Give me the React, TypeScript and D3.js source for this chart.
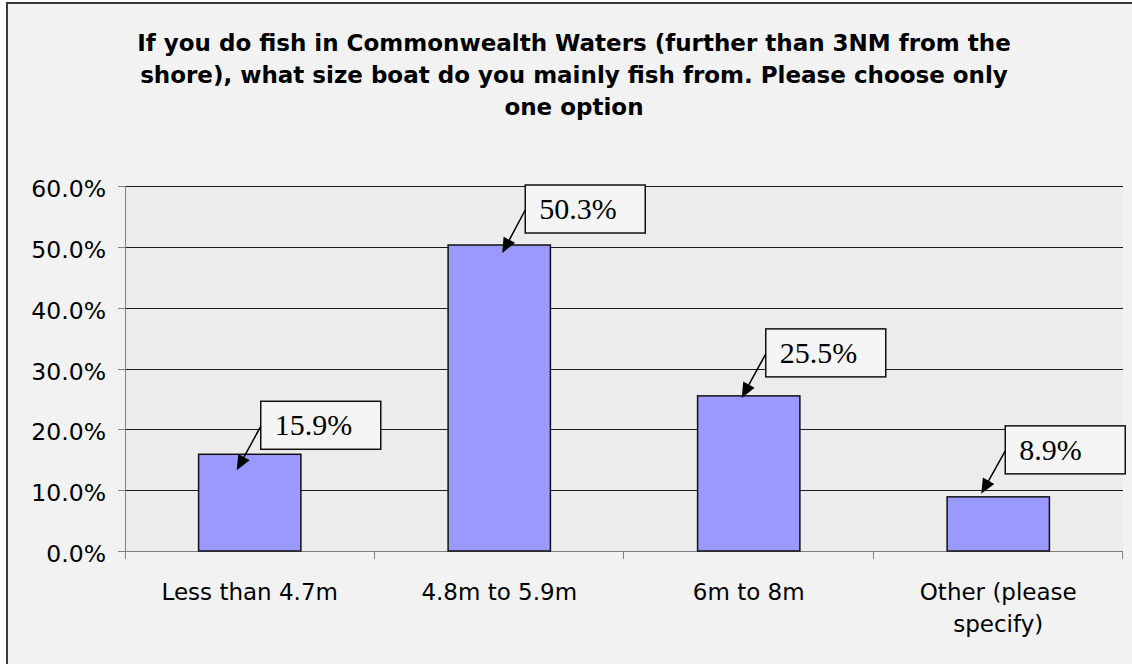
import React from "react";
import * as d3 from "d3";

const titleLines = [
  "If you do fish in Commonwealth Waters (further than 3NM from the",
  "shore), what size boat do you mainly fish from. Please choose only",
  "one option",
];
const categories = ["Less than 4.7m", "4.8m to 5.9m", "6m to 8m", "Other (please specify)"];
const categoryLines = [["Less than 4.7m"], ["4.8m to 5.9m"], ["6m to 8m"], ["Other (please", "specify)"]];
const values = [15.9, 50.3, 25.5, 8.9];
const valueLabels = ["15.9%", "50.3%", "25.5%", "8.9%"];
const yTicks = [0, 10, 20, 30, 40, 50, 60];

// callout layout (relative to bar centre / bar top)
const callouts = [
  { boxDx: 11, boxDy: -53, tipDx: -13, tipDy: 16 },
  { boxDx: 26, boxDy: -60, tipDx: 3, tipDy: 8 },
  { boxDx: 17, boxDy: -67, tipDx: -7, tipDy: 2 },
  { boxDx: 7, boxDy: -71, tipDx: -17, tipDy: -3 },
];

const W = 1132;
const H = 664;
const plot = { left: 125, right: 1123, top: 186, bottom: 551 };

export default function App() {
  const x = d3.scaleBand<string>().domain(categories).range([plot.left, plot.right]).padding(0);
  const y = d3.scaleLinear().domain([0, 60]).range([plot.bottom, plot.top]);
  const barW = x.bandwidth() * 0.41;
  const boxW = 120;
  const boxH = 48;
  const sans = "'DejaVu Sans', Verdana, sans-serif";
  const serif = "'Liberation Serif', 'Times New Roman', serif";

  return (
    <svg width={W} height={H} style={{ position: "absolute", left: 0, top: 0 }}>
      <rect x={0} y={0} width={W} height={H} fill="#ffffff" />
      <rect x={7} y={3} width={W + 20} height={H + 20} fill="#f2f2f2" stroke="#3a3a3a" strokeWidth={2} />
      {titleLines.map((t, i) => (
        <text key={i} x={574} y={51 + i * 32} textAnchor="middle" fontFamily={sans} fontWeight="bold" fontSize={23} fill="#000">
          {t}
        </text>
      ))}
      <rect x={plot.left} y={plot.top} width={plot.right - plot.left} height={plot.bottom - plot.top} fill="#ececec" />
      {yTicks.map((t) => (
        <g key={t}>
          <line x1={plot.left} x2={plot.right} y1={Math.round(y(t)) + 0.5} y2={Math.round(y(t)) + 0.5} stroke={t === 0 ? "#808080" : "#1a1a1a"} strokeWidth={1} />
          <line x1={118} x2={plot.left} y1={Math.round(y(t)) + 0.5} y2={Math.round(y(t)) + 0.5} stroke="#808080" />
          <text x={106} y={y(t) + 11} textAnchor="end" fontFamily={sans} fontSize={23.5} fill="#000">
            {d3.format(".1f")(t)}%
          </text>
        </g>
      ))}
      <line x1={plot.left + 0.5} x2={plot.left + 0.5} y1={plot.top} y2={plot.bottom + 8} stroke="#808080" />
      {categories.map((c, i) => {
        const bx = (x(c) as number) + x.bandwidth();
        return <line key={"t" + i} x1={Math.round(bx) - 0.5} x2={Math.round(bx) - 0.5} y1={plot.bottom} y2={plot.bottom + 8} stroke="#808080" />;
      })}
      {categories.map((c, i) => {
        const cx = (x(c) as number) + x.bandwidth() / 2;
        return (
          <rect key={"b" + i} x={cx - barW / 2} y={y(values[i])} width={barW} height={plot.bottom - y(values[i])} fill="#9999ff" stroke="#111" strokeWidth={1.5} />
        );
      })}
      {categories.map((c, i) => {
        const cx = (x(c) as number) + x.bandwidth() / 2;
        return categoryLines[i].map((l, j) => (
          <text key={c + j} x={cx} y={600 + j * 32} textAnchor="middle" fontFamily={sans} fontSize={23} fill="#000">
            {l}
          </text>
        ));
      })}
      {categories.map((c, i) => {
        const cx = (x(c) as number) + x.bandwidth() / 2;
        const top = y(values[i]);
        const co = callouts[i];
        const bx = cx + co.boxDx;
        const by = top + co.boxDy;
        const sx = bx;
        const sy = by + 25;
        const tx = cx + co.tipDx;
        const ty = top + co.tipDy;
        const ang = Math.atan2(ty - sy, tx - sx);
        const L = 15;
        const hw = 6.5;
        const baseX = tx - L * Math.cos(ang);
        const baseY = ty - L * Math.sin(ang);
        const px = -Math.sin(ang) * hw;
        const py = Math.cos(ang) * hw;
        return (
          <g key={"c" + i}>
            <rect x={bx} y={by} width={boxW} height={boxH} fill="#f5f5f5" stroke="#111" strokeWidth={1.5} />
            <text x={bx + 14} y={by + 34} fontFamily={serif} fontSize={30} fill="#000">
              {valueLabels[i]}
            </text>
            <line x1={sx} y1={sy} x2={baseX} y2={baseY} stroke="#000" strokeWidth={1.5} />
            <polygon points={`${tx},${ty} ${baseX + px},${baseY + py} ${baseX - px},${baseY - py}`} fill="#000" />
          </g>
        );
      })}
    </svg>
  );
}
